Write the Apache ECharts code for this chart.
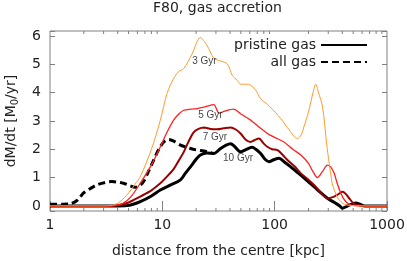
<!DOCTYPE html>
<html><head><meta charset="utf-8">
<script src="https://cdn.jsdelivr.net/npm/echarts@6/dist/echarts.min.js"></script>
<style>html,body{margin:0;padding:0;background:#fff}#c{width:407px;height:261px}</style>
</head><body><div id="c"></div>
<script>
// ---- data (distance in kpc, dM/dt in M0/yr) ----
const r3  = [1, 2, 3, 3.6, 4.2, 5, 5.74, 6.36, 8, 9.6, 11, 12.6, 14, 15.5, 18.4, 21.8, 25, 28.7, 33, 37.8, 42, 46.4, 50, 56, 61, 68, 75, 90, 113, 135, 159, 172, 182, 200, 220, 232, 245, 267, 290, 306, 325, 339, 365, 388, 420, 460, 600, 1000];
const v3  = [0, 0, 0, 0.02, 0.15, 0.45, 0.78, 1.03, 2.0, 3.03, 3.97, 4.5, 4.75, 4.85, 5.37, 5.95, 5.67, 5.22, 5.12, 5.02, 4.61, 4.44, 4.3, 4.3, 4.27, 4.08, 3.79, 3.52, 3.09, 2.68, 2.38, 2.5, 2.79, 3.32, 4.02, 4.3, 4.02, 3.5, 2.2, 1.5, 0.8, 0.56, 0.28, 0.15, 0.05, 0.02, 0, 0];
const r5  = [1, 3, 3.9, 4.5, 5.2, 6.36, 8, 9.6, 11, 12.6, 14, 15.5, 18, 20.4, 24, 28.7, 32, 36, 43, 50, 61, 72, 86, 100, 121, 145, 171, 200, 220, 240, 265, 295, 315, 339, 360, 388, 420, 460, 520, 600, 1000];
const v5  = [0, 0, 0.02, 0.1, 0.3, 0.8, 1.45, 2.09, 2.6, 3.03, 3.25, 3.38, 3.42, 3.44, 3.5, 3.58, 3.28, 3.35, 3.42, 3.25, 3.03, 2.8, 2.56, 2.42, 2.26, 2.0, 1.8, 1.5, 1.2, 1.0, 1.2, 1.44, 1.38, 1.15, 0.8, 0.45, 0.2, 0.06, 0.01, 0, 0];
const r7  = [1, 3.5, 4, 5, 6.36, 8, 9.6, 10.3, 12.6, 14, 15.5, 17, 19, 21, 23.4, 27, 30.8, 35, 40.5, 45, 49.7, 55, 61, 66, 72.5, 80, 86, 95, 106, 118, 130, 150, 171, 200, 224, 260, 295, 339, 370, 402, 430, 461, 500, 550, 620, 1000];
const v7  = [0, 0, 0.02, 0.12, 0.33, 0.55, 0.8, 0.92, 1.3, 1.6, 1.9, 2.25, 2.6, 2.72, 2.77, 2.72, 2.71, 2.74, 2.77, 2.7, 2.56, 2.35, 2.26, 2.32, 2.38, 2.2, 2.09, 2.0, 1.97, 1.8, 1.62, 1.4, 1.15, 0.92, 0.74, 0.45, 0.27, 0.33, 0.42, 0.5, 0.42, 0.27, 0.1, 0.03, 0, 0];
const r10 = [1, 4, 4.8, 5.5, 6.36, 8, 9.6, 12, 14.5, 16, 17.8, 20, 21.8, 25, 28.7, 33, 37, 40.5, 44, 49.7, 55, 63, 68, 75, 82, 89, 98, 109.5, 122, 139, 155, 171, 200, 224, 260, 295, 340, 380, 402, 430, 461, 525, 580, 630, 1000];
const v10 = [0, 0, 0.01, 0.06, 0.15, 0.35, 0.56, 0.75, 0.92, 1.15, 1.38, 1.65, 1.8, 1.87, 1.85, 2.03, 2.15, 2.2, 2.1, 1.91, 1.98, 2.07, 2.0, 1.85, 1.65, 1.56, 1.63, 1.68, 1.55, 1.38, 1.22, 1.09, 0.85, 0.68, 0.45, 0.27, 0.12, 0, -0.08, -0.03, 0.03, 0.1, 0.05, 0, 0];
const rAll = [1, 1.3, 1.5, 1.75, 1.98, 2.3, 2.61, 3.1, 3.56, 4, 4.51, 5.1, 5.74, 6.3, 6.81, 7.5, 8.37, 9.3, 10.3, 11.4, 12.5, 14.5, 17.8, 20, 23.4, 26, 28.7];
const vAll = [0.06, 0.06, 0.07, 0.2, 0.45, 0.62, 0.74, 0.83, 0.86, 0.84, 0.8, 0.72, 0.66, 0.72, 0.86, 1.2, 1.62, 2.0, 2.26, 2.35, 2.3, 2.15, 2.03, 1.98, 1.94, 1.9, 1.85];
const labelNames = ['3 Gyr', '5 Gyr', '7 Gyr', '10 Gyr'];
const labelR = [23.7, 26.8, 29.4, 47.2];
const labelV = [5.1, 3.22, 2.43, 1.69];
const minorTicks = [2,3,4,5,6,7,8,9,20,30,40,50,60,70,80,90,200,300,400,500,600,700,800,900];
const yTickLabels = ['0','1','2','3','4','5','6'];

const zip = (a, b) => a.map((x, i) => [x, b[i]]);
const FONT = 'DejaVu Sans';
const GRAY = '#808080';

const chart = echarts.init(document.getElementById('c'), null, {renderer: 'canvas'});
const lineSeries = (name, r, v, color, width, type) => ({
  name, type: 'line', data: zip(r, v), showSymbol: false, symbol: 'none',
  smooth: 0.3, lineStyle: {color, width, type: type || 'solid'}, itemStyle: {color},
  silent: true, z: 2
});
const legendCommon = {right: 39, align: 'right', itemWidth: 46, itemHeight: 14, itemGap: 0, padding: 0,
  itemStyle: {opacity: 0, borderWidth: 0},
  textStyle: {fontFamily: FONT, fontSize: 14, color: '#222'}};

chart.setOption({
  animation: false,
  title: {text: 'F80, gas accretion', left: 153, top: 1, padding: 0,
    textStyle: {fontFamily: FONT, fontSize: 14, fontWeight: 'normal', color: '#222'}},
  grid: {left: 50, right: 20, top: 31, bottom: 50, show: true, borderColor: GRAY, borderWidth: 1,
    containLabel: false, outerBoundsMode: 'none'},
  legend: [
    Object.assign({data: ['pristine gas'], top: 38}, legendCommon),
    Object.assign({data: ['all gas'], top: 55}, legendCommon)
  ],
  xAxis: [
    {type: 'log', logBase: 10, min: 1, max: 1000, position: 'bottom',
     name: 'distance from the centre [kpc]', nameLocation: 'middle', nameGap: 33,
     nameTextStyle: {fontFamily: FONT, fontSize: 14, color: '#222'},
     axisLine: {show: false}, splitLine: {show: false},
     axisTick: {show: true, inside: true, length: 5, lineStyle: {color: GRAY}},
     axisLabel: {fontFamily: FONT, fontSize: 14, color: '#222', margin: 7, formatter: v => String(v)}},
    {type: 'log', logBase: 10, min: 1, max: 1000, position: 'top',
     axisLine: {show: false}, splitLine: {show: false},
     axisTick: {show: true, inside: true, length: 5, lineStyle: {color: GRAY}},
     axisLabel: {show: false}}
  ],
  yAxis: [
    {type: 'value', min: -0.18, max: 6.18, splitNumber: 6, position: 'left',
     name: 'dM/dt [M{sub|0}/yr]', nameLocation: 'middle', nameGap: 30, nameRotate: 90,
     nameTextStyle: {fontFamily: FONT, fontSize: 14, color: '#222',
       rich: {sub: {fontFamily: FONT, fontSize: 10, color: '#222', padding: [8, 0, 0, 0]}}},
     axisLine: {show: false}, splitLine: {show: false},
     axisTick: {show: true, inside: true, length: 5, lineStyle: {color: GRAY}},
     axisLabel: {fontFamily: FONT, fontSize: 14, color: '#222', margin: 9,
       formatter: v => (Math.abs(v - Math.round(v)) < 1e-6 ? yTickLabels[Math.round(v)] || '' : '')}},
    {type: 'value', min: -0.18, max: 6.18, splitNumber: 6, position: 'right',
     axisLine: {show: false}, splitLine: {show: false},
     axisTick: {show: true, inside: true, length: 5, lineStyle: {color: GRAY}},
     axisLabel: {show: false}}
  ],
  series: [
    {type: 'custom', name: 'minor', coordinateSystem: 'cartesian2d', silent: true, clip: false,
     data: minorTicks.map(t => [t, 0]),
     renderItem: (params, api) => {
       const cs = params.coordSys;
       const x = api.coord([api.value(0), 0])[0];
       const yb = cs.y + cs.height, yt = cs.y;
       return {type: 'group', children: [
         {type: 'line', shape: {x1: x, y1: yb, x2: x, y2: yb - 3}, style: {stroke: GRAY, lineWidth: 1}},
         {type: 'line', shape: {x1: x, y1: yt, x2: x, y2: yt + 3}, style: {stroke: GRAY, lineWidth: 1}}
       ]};
     }},
    lineSeries('pristine gas', r10, v10, '#000000', 3),
    lineSeries('all gas', rAll, vAll, '#000000', 3, [7, 4]),
    lineSeries('7 Gyr', r7, v7, '#990000', 2),
    lineSeries('5 Gyr', r5, v5, '#ff2020', 1.3),
    lineSeries('3 Gyr', r3, v3, '#ff9a2a', 1),
    {type: 'scatter', name: 'labels', symbolSize: 0, silent: true, z: 5,
     data: labelNames.map((n, i) => ({name: n, value: [labelR[i], labelV[i]]})),
     label: {show: true, position: 'inside', formatter: p => p.name,
       fontFamily: 'Liberation Sans', fontSize: 10, color: '#111'}}
  ]
});
</script></body></html>
